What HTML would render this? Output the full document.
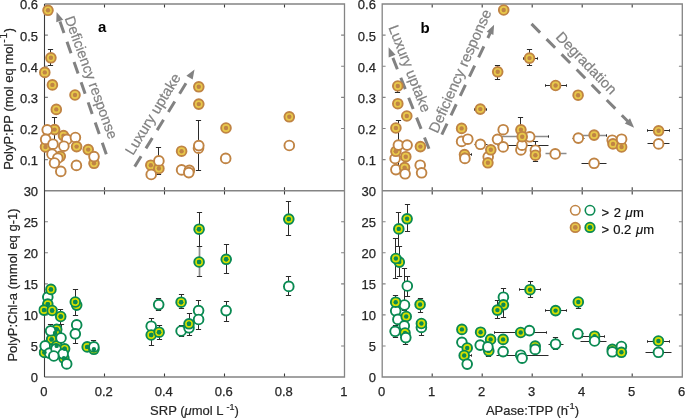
<!DOCTYPE html>
<html><head><meta charset="utf-8"><style>
html,body{margin:0;padding:0;background:#fff;width:685px;height:418px;overflow:hidden}
svg{display:block;will-change:transform}
text{font-family:"Liberation Sans",sans-serif}
</style></head><body>
<svg width="685" height="418" viewBox="0 0 685 418">
<rect width="685" height="418" fill="#fff"/>
<defs>
<clipPath id="ca"><rect x="38.5" y="-2.0" width="312.0" height="198.75"/></clipPath>
<clipPath id="cb"><rect x="376.2" y="-2.0" width="312.09999999999997" height="198.75"/></clipPath>
<clipPath id="cc"><rect x="38.5" y="184.75" width="312.0" height="198.25"/></clipPath>
<clipPath id="cd"><rect x="376.2" y="184.75" width="312.09999999999997" height="198.25"/></clipPath>
</defs>
<path d="M104.5 190.8v-3.6M104.5 4.0v3.6M164.5 190.8v-3.6M164.5 4.0v3.6M224.5 190.8v-3.6M224.5 4.0v3.6M284.5 190.8v-3.6M284.5 4.0v3.6" stroke="#3c3c3c" stroke-width="1.1" fill="none"/>
<path d="M44.5 159.6h3.4M344.5 159.6h-3.4M44.5 128.5h3.4M344.5 128.5h-3.4M44.5 97.4h3.4M344.5 97.4h-3.4M44.5 66.2h3.4M344.5 66.2h-3.4M44.5 35.1h3.4M344.5 35.1h-3.4" stroke="#848484" stroke-width="1.1" fill="none"/>
<path d="M104.5 377.0v-3.6M104.5 190.8v3.6M164.5 377.0v-3.6M164.5 190.8v3.6M224.5 377.0v-3.6M224.5 190.8v3.6M284.5 377.0v-3.6M284.5 190.8v3.6" stroke="#3c3c3c" stroke-width="1.1" fill="none"/>
<path d="M44.5 346.0h3.4M344.5 346.0h-3.4M44.5 314.9h3.4M344.5 314.9h-3.4M44.5 283.9h3.4M344.5 283.9h-3.4M44.5 252.8h3.4M344.5 252.8h-3.4M44.5 221.8h3.4M344.5 221.8h-3.4" stroke="#848484" stroke-width="1.1" fill="none"/>
<path d="M432.2 190.8v-3.6M432.2 4.0v3.6M482.2 190.8v-3.6M482.2 4.0v3.6M532.2 190.8v-3.6M532.2 4.0v3.6M582.2 190.8v-3.6M582.2 4.0v3.6M632.2 190.8v-3.6M632.2 4.0v3.6" stroke="#3c3c3c" stroke-width="1.1" fill="none"/>
<path d="M382.2 159.6h3.4M682.3 159.6h-3.4M382.2 128.5h3.4M682.3 128.5h-3.4M382.2 97.4h3.4M682.3 97.4h-3.4M382.2 66.2h3.4M682.3 66.2h-3.4M382.2 35.1h3.4M682.3 35.1h-3.4" stroke="#848484" stroke-width="1.1" fill="none"/>
<path d="M432.2 377.0v-3.6M432.2 190.8v3.6M482.2 377.0v-3.6M482.2 190.8v3.6M532.2 377.0v-3.6M532.2 190.8v3.6M582.2 377.0v-3.6M582.2 190.8v3.6M632.2 377.0v-3.6M632.2 190.8v3.6" stroke="#3c3c3c" stroke-width="1.1" fill="none"/>
<path d="M382.2 346.0h3.4M682.3 346.0h-3.4M382.2 314.9h3.4M682.3 314.9h-3.4M382.2 283.9h3.4M682.3 283.9h-3.4M382.2 252.8h3.4M682.3 252.8h-3.4M382.2 221.8h3.4M682.3 221.8h-3.4" stroke="#848484" stroke-width="1.1" fill="none"/>
<path d="M44.5 4.0H344.5V377.0H44.5M44.5 190.75H344.5" stroke="#848484" stroke-width="1.3" fill="none"/>
<path d="M382.2 4.0H682.3V377.0H382.2ZM382.2 190.75H682.3" stroke="#848484" stroke-width="1.3" fill="none"/>
<path d="M44.5 4.0V377.0" stroke="#3c3c3c" stroke-width="1.1" fill="none"/>
<text x="38.1" y="165.0" text-anchor="end" font-family="Liberation Sans, sans-serif" font-size="13" fill="#262626" stroke="#262626" stroke-width="0.25">0.1</text>
<text x="38.1" y="133.9" text-anchor="end" font-family="Liberation Sans, sans-serif" font-size="13" fill="#262626" stroke="#262626" stroke-width="0.25">0.2</text>
<text x="38.1" y="102.8" text-anchor="end" font-family="Liberation Sans, sans-serif" font-size="13" fill="#262626" stroke="#262626" stroke-width="0.25">0.3</text>
<text x="38.1" y="71.7" text-anchor="end" font-family="Liberation Sans, sans-serif" font-size="13" fill="#262626" stroke="#262626" stroke-width="0.25">0.4</text>
<text x="38.1" y="40.5" text-anchor="end" font-family="Liberation Sans, sans-serif" font-size="13" fill="#262626" stroke="#262626" stroke-width="0.25">0.5</text>
<text x="38.1" y="9.4" text-anchor="end" font-family="Liberation Sans, sans-serif" font-size="13" fill="#262626" stroke="#262626" stroke-width="0.25">0.6</text>
<text x="38.1" y="382.4" text-anchor="end" font-family="Liberation Sans, sans-serif" font-size="13" fill="#262626" stroke="#262626" stroke-width="0.25">0</text>
<text x="38.1" y="351.4" text-anchor="end" font-family="Liberation Sans, sans-serif" font-size="13" fill="#262626" stroke="#262626" stroke-width="0.25">5</text>
<text x="38.1" y="320.3" text-anchor="end" font-family="Liberation Sans, sans-serif" font-size="13" fill="#262626" stroke="#262626" stroke-width="0.25">10</text>
<text x="38.1" y="289.3" text-anchor="end" font-family="Liberation Sans, sans-serif" font-size="13" fill="#262626" stroke="#262626" stroke-width="0.25">15</text>
<text x="38.1" y="258.2" text-anchor="end" font-family="Liberation Sans, sans-serif" font-size="13" fill="#262626" stroke="#262626" stroke-width="0.25">20</text>
<text x="38.1" y="227.2" text-anchor="end" font-family="Liberation Sans, sans-serif" font-size="13" fill="#262626" stroke="#262626" stroke-width="0.25">25</text>
<text x="38.1" y="196.2" text-anchor="end" font-family="Liberation Sans, sans-serif" font-size="13" fill="#262626" stroke="#262626" stroke-width="0.25">30</text>
<text x="375.9" y="165.0" text-anchor="end" font-family="Liberation Sans, sans-serif" font-size="13" fill="#262626" stroke="#262626" stroke-width="0.25">0.1</text>
<text x="375.9" y="133.9" text-anchor="end" font-family="Liberation Sans, sans-serif" font-size="13" fill="#262626" stroke="#262626" stroke-width="0.25">0.2</text>
<text x="375.9" y="102.8" text-anchor="end" font-family="Liberation Sans, sans-serif" font-size="13" fill="#262626" stroke="#262626" stroke-width="0.25">0.3</text>
<text x="375.9" y="71.7" text-anchor="end" font-family="Liberation Sans, sans-serif" font-size="13" fill="#262626" stroke="#262626" stroke-width="0.25">0.4</text>
<text x="375.9" y="40.5" text-anchor="end" font-family="Liberation Sans, sans-serif" font-size="13" fill="#262626" stroke="#262626" stroke-width="0.25">0.5</text>
<text x="375.9" y="9.4" text-anchor="end" font-family="Liberation Sans, sans-serif" font-size="13" fill="#262626" stroke="#262626" stroke-width="0.25">0.6</text>
<text x="375.9" y="382.4" text-anchor="end" font-family="Liberation Sans, sans-serif" font-size="13" fill="#262626" stroke="#262626" stroke-width="0.25">0</text>
<text x="375.9" y="351.4" text-anchor="end" font-family="Liberation Sans, sans-serif" font-size="13" fill="#262626" stroke="#262626" stroke-width="0.25">5</text>
<text x="375.9" y="320.3" text-anchor="end" font-family="Liberation Sans, sans-serif" font-size="13" fill="#262626" stroke="#262626" stroke-width="0.25">10</text>
<text x="375.9" y="289.3" text-anchor="end" font-family="Liberation Sans, sans-serif" font-size="13" fill="#262626" stroke="#262626" stroke-width="0.25">15</text>
<text x="375.9" y="258.2" text-anchor="end" font-family="Liberation Sans, sans-serif" font-size="13" fill="#262626" stroke="#262626" stroke-width="0.25">20</text>
<text x="375.9" y="227.2" text-anchor="end" font-family="Liberation Sans, sans-serif" font-size="13" fill="#262626" stroke="#262626" stroke-width="0.25">25</text>
<text x="375.9" y="196.2" text-anchor="end" font-family="Liberation Sans, sans-serif" font-size="13" fill="#262626" stroke="#262626" stroke-width="0.25">30</text>
<text x="43.8" y="395.7" text-anchor="middle" font-family="Liberation Sans, sans-serif" font-size="13" fill="#262626" stroke="#262626" stroke-width="0.25">0</text>
<text x="103.8" y="395.7" text-anchor="middle" font-family="Liberation Sans, sans-serif" font-size="13" fill="#262626" stroke="#262626" stroke-width="0.25">0.2</text>
<text x="163.8" y="395.7" text-anchor="middle" font-family="Liberation Sans, sans-serif" font-size="13" fill="#262626" stroke="#262626" stroke-width="0.25">0.4</text>
<text x="223.8" y="395.7" text-anchor="middle" font-family="Liberation Sans, sans-serif" font-size="13" fill="#262626" stroke="#262626" stroke-width="0.25">0.6</text>
<text x="283.8" y="395.7" text-anchor="middle" font-family="Liberation Sans, sans-serif" font-size="13" fill="#262626" stroke="#262626" stroke-width="0.25">0.8</text>
<text x="343.8" y="395.7" text-anchor="middle" font-family="Liberation Sans, sans-serif" font-size="13" fill="#262626" stroke="#262626" stroke-width="0.25">1</text>
<text x="381.5" y="395.7" text-anchor="middle" font-family="Liberation Sans, sans-serif" font-size="13" fill="#262626" stroke="#262626" stroke-width="0.25">0</text>
<text x="431.5" y="395.7" text-anchor="middle" font-family="Liberation Sans, sans-serif" font-size="13" fill="#262626" stroke="#262626" stroke-width="0.25">1</text>
<text x="481.5" y="395.7" text-anchor="middle" font-family="Liberation Sans, sans-serif" font-size="13" fill="#262626" stroke="#262626" stroke-width="0.25">2</text>
<text x="531.5" y="395.7" text-anchor="middle" font-family="Liberation Sans, sans-serif" font-size="13" fill="#262626" stroke="#262626" stroke-width="0.25">3</text>
<text x="581.5" y="395.7" text-anchor="middle" font-family="Liberation Sans, sans-serif" font-size="13" fill="#262626" stroke="#262626" stroke-width="0.25">4</text>
<text x="631.5" y="395.7" text-anchor="middle" font-family="Liberation Sans, sans-serif" font-size="13" fill="#262626" stroke="#262626" stroke-width="0.25">5</text>
<text x="681.5" y="395.7" text-anchor="middle" font-family="Liberation Sans, sans-serif" font-size="13" fill="#262626" stroke="#262626" stroke-width="0.25">6</text>
<text transform="translate(13.4,98.9) rotate(-90)" text-anchor="middle" font-family="Liberation Sans, sans-serif" font-size="13" fill="#262626" stroke="#262626" stroke-width="0.2">PolyP:PP (mol eq mol<tspan dy="-6" dx="1" font-size="10">-</tspan><tspan dx="0.8" font-size="10">1</tspan><tspan dy="6" dx="0.7">)</tspan></text>
<text transform="translate(16.6,285.0) rotate(-90)" text-anchor="middle" font-family="Liberation Sans, sans-serif" font-size="13" fill="#262626" stroke="#262626" stroke-width="0.2">PolyP:Chl-a (mmol eq g-1)</text>
<text x="194.5" y="414.6" text-anchor="middle" font-family="Liberation Sans, sans-serif" font-size="13" fill="#262626" stroke="#262626" stroke-width="0.2">SRP (<tspan font-style="italic">μ</tspan>mol L <tspan dy="-5" font-size="9">-1</tspan><tspan dy="5">)</tspan></text>
<text x="532.5" y="414.6" text-anchor="middle" font-family="Liberation Sans, sans-serif" font-size="13" fill="#262626" stroke="#262626" stroke-width="0.2">APase:TPP (h<tspan dy="-5.8" font-size="9.5" dx="-1.8">-1</tspan><tspan dy="5.8">)</tspan></text>
<text x="98.0" y="32.4" font-family="Liberation Sans, sans-serif" font-size="15" font-weight="bold" fill="#000">a</text>
<text x="420.4" y="32.6" font-family="Liberation Sans, sans-serif" font-size="15" font-weight="bold" fill="#000">b</text>
<path d="M106.30 154.30L59.57 20.50" stroke="#828282" stroke-width="3" stroke-dasharray="12.2 9.2" stroke-dashoffset="0" fill="none"/>
<path d="M56.60 12.00L63.23 19.75L56.24 22.19Z" fill="#828282"/>
<path d="M134.70 166.60L189.78 77.16" stroke="#828282" stroke-width="3" stroke-dasharray="12.2 9.2" stroke-dashoffset="0" fill="none"/>
<path d="M194.50 69.50L192.67 79.53L186.37 75.65Z" fill="#828282"/>
<path d="M429.00 148.80L391.93 55.56" stroke="#828282" stroke-width="3" stroke-dasharray="12.2 9.2" stroke-dashoffset="0" fill="none"/>
<path d="M388.60 47.20L395.55 54.66L388.67 57.39Z" fill="#828282"/>
<path d="M441.80 134.60L490.23 32.93" stroke="#828282" stroke-width="3" stroke-dasharray="12.2 9.2" stroke-dashoffset="0" fill="none"/>
<path d="M494.10 24.80L493.36 34.97L486.67 31.79Z" fill="#828282"/>
<path d="M531.50 23.90L627.77 121.30" stroke="#828282" stroke-width="3" stroke-dasharray="12.2 9.2" stroke-dashoffset="0" fill="none"/>
<path d="M634.10 127.70L624.79 123.54L630.05 118.34Z" fill="#828282"/>
<text transform="translate(91.50,77.40) rotate(70)" text-anchor="middle" dy="5.2" font-family="Liberation Sans, sans-serif" font-size="14.4" fill="#828282" stroke="#828282" stroke-width="0.2">Deficiency response</text>
<text transform="translate(152.70,113.90) rotate(-58.5)" text-anchor="middle" dy="5.2" font-family="Liberation Sans, sans-serif" font-size="14.7" fill="#828282" stroke="#828282" stroke-width="0.2">Luxury uptake</text>
<text transform="translate(409.90,68.45) rotate(68.6)" text-anchor="middle" dy="5.2" font-family="Liberation Sans, sans-serif" font-size="14.7" fill="#828282" stroke="#828282" stroke-width="0.2">Luxury uptake</text>
<text transform="translate(459.90,71.00) rotate(-66)" text-anchor="middle" dy="5.2" font-family="Liberation Sans, sans-serif" font-size="14.8" fill="#828282" stroke="#828282" stroke-width="0.2">Deficiency response</text>
<text transform="translate(586.60,62.90) rotate(46)" text-anchor="middle" dy="5.2" font-family="Liberation Sans, sans-serif" font-size="14.7" fill="#828282" stroke="#828282" stroke-width="0.2">Degradation</text>
<g clip-path="url(#ca)">
<path d="M50.5 49.5V65.5M47.9 49.5H53.1M47.9 65.5H53.1" stroke="#2a2a2a" stroke-width="1.0" fill="none"/>
<path d="M54.5 117.5V141.5M51.9 117.5H57.1M51.9 141.5H57.1" stroke="#2a2a2a" stroke-width="1.0" fill="none"/>
<path d="M158.5 147.5V174.5M155.9 147.5H161.1M155.9 174.5H161.1" stroke="#2a2a2a" stroke-width="1.0" fill="none"/>
<path d="M198.5 82.5V91.5M195.9 82.5H201.1M195.9 91.5H201.1" stroke="#2a2a2a" stroke-width="1.0" fill="none"/>
<path d="M198.5 120.5V170.5M195.9 120.5H201.1M195.9 170.5H201.1" stroke="#2a2a2a" stroke-width="1.0" fill="none"/>
<circle cx="48.0" cy="10.3" r="4.85" fill="#e8c84a" stroke="#c08444" stroke-width="1.9"/><circle cx="48.0" cy="10.3" r="2.2" fill="#c08444"/>
<circle cx="50.9" cy="57.8" r="4.85" fill="#e8c84a" stroke="#c08444" stroke-width="1.9"/><circle cx="50.9" cy="57.8" r="2.2" fill="#c08444"/>
<circle cx="44.8" cy="72.4" r="4.85" fill="#e8c84a" stroke="#c08444" stroke-width="1.9"/><circle cx="44.8" cy="72.4" r="2.2" fill="#c08444"/>
<circle cx="52.4" cy="84.9" r="4.85" fill="#e8c84a" stroke="#c08444" stroke-width="1.9"/><circle cx="52.4" cy="84.9" r="2.2" fill="#c08444"/>
<circle cx="75.0" cy="95.0" r="4.85" fill="#e8c84a" stroke="#c08444" stroke-width="1.9"/><circle cx="75.0" cy="95.0" r="2.2" fill="#c08444"/>
<circle cx="56.3" cy="109.4" r="4.85" fill="#e8c84a" stroke="#c08444" stroke-width="1.9"/><circle cx="56.3" cy="109.4" r="2.2" fill="#c08444"/>
<circle cx="54.6" cy="129.6" r="4.85" fill="#e8c84a" stroke="#c08444" stroke-width="1.9"/><circle cx="54.6" cy="129.6" r="2.2" fill="#c08444"/>
<circle cx="63.5" cy="135.6" r="4.85" fill="#e8c84a" stroke="#c08444" stroke-width="1.9"/><circle cx="63.5" cy="135.6" r="2.2" fill="#c08444"/>
<circle cx="45.5" cy="147.0" r="4.85" fill="#e8c84a" stroke="#c08444" stroke-width="1.9"/><circle cx="45.5" cy="147.0" r="2.2" fill="#c08444"/>
<circle cx="60.3" cy="156.3" r="4.85" fill="#e8c84a" stroke="#c08444" stroke-width="1.9"/><circle cx="60.3" cy="156.3" r="2.2" fill="#c08444"/>
<circle cx="47.2" cy="129.8" r="4.85" fill="#fff" stroke="#c08444" stroke-width="1.9"/>
<circle cx="45.7" cy="139.4" r="4.85" fill="#fff" stroke="#c08444" stroke-width="1.9"/>
<circle cx="66.8" cy="139.4" r="4.85" fill="#fff" stroke="#c08444" stroke-width="1.9"/>
<circle cx="75.4" cy="137.5" r="4.85" fill="#fff" stroke="#c08444" stroke-width="1.9"/>
<circle cx="53.0" cy="144.2" r="4.85" fill="#fff" stroke="#c08444" stroke-width="1.9"/>
<circle cx="63.9" cy="146.2" r="4.85" fill="#fff" stroke="#c08444" stroke-width="1.9"/>
<circle cx="76.6" cy="146.6" r="4.85" fill="#e8c84a" stroke="#c08444" stroke-width="1.9"/><circle cx="76.6" cy="146.6" r="2.2" fill="#c08444"/>
<circle cx="88.2" cy="149.6" r="4.85" fill="#e8c84a" stroke="#c08444" stroke-width="1.9"/><circle cx="88.2" cy="149.6" r="2.2" fill="#c08444"/>
<circle cx="52.0" cy="154.2" r="4.85" fill="#fff" stroke="#c08444" stroke-width="1.9"/>
<circle cx="57.8" cy="158.2" r="4.85" fill="#fff" stroke="#c08444" stroke-width="1.9"/>
<circle cx="54.5" cy="163.0" r="4.85" fill="#fff" stroke="#c08444" stroke-width="1.9"/>
<circle cx="94.0" cy="163.3" r="4.85" fill="#e8c84a" stroke="#c08444" stroke-width="1.9"/><circle cx="94.0" cy="163.3" r="2.2" fill="#c08444"/>
<circle cx="94.0" cy="156.6" r="4.85" fill="#fff" stroke="#c08444" stroke-width="1.9"/>
<circle cx="76.4" cy="165.4" r="4.85" fill="#fff" stroke="#c08444" stroke-width="1.9"/>
<circle cx="60.8" cy="171.4" r="4.85" fill="#fff" stroke="#c08444" stroke-width="1.9"/>
<circle cx="150.8" cy="165.2" r="4.85" fill="#e8c84a" stroke="#c08444" stroke-width="1.9"/><circle cx="150.8" cy="165.2" r="2.2" fill="#c08444"/>
<circle cx="158.9" cy="168.5" r="4.85" fill="#e8c84a" stroke="#c08444" stroke-width="1.9"/><circle cx="158.9" cy="168.5" r="2.2" fill="#c08444"/>
<circle cx="158.9" cy="160.9" r="4.85" fill="#fff" stroke="#c08444" stroke-width="1.9"/>
<circle cx="151.2" cy="174.5" r="4.85" fill="#fff" stroke="#c08444" stroke-width="1.9"/>
<circle cx="181.6" cy="151.2" r="4.85" fill="#e8c84a" stroke="#c08444" stroke-width="1.9"/><circle cx="181.6" cy="151.2" r="2.2" fill="#c08444"/>
<circle cx="181.6" cy="169.9" r="4.85" fill="#fff" stroke="#c08444" stroke-width="1.9"/>
<circle cx="189.4" cy="170.3" r="4.85" fill="#fff" stroke="#c08444" stroke-width="1.9"/>
<circle cx="188.8" cy="172.6" r="4.85" fill="#fff" stroke="#c08444" stroke-width="1.9"/>
<circle cx="198.8" cy="86.8" r="4.85" fill="#e8c84a" stroke="#c08444" stroke-width="1.9"/><circle cx="198.8" cy="86.8" r="2.2" fill="#c08444"/>
<circle cx="198.8" cy="104.1" r="4.85" fill="#e8c84a" stroke="#c08444" stroke-width="1.9"/><circle cx="198.8" cy="104.1" r="2.2" fill="#c08444"/>
<circle cx="198.5" cy="148.2" r="4.85" fill="#fff" stroke="#c08444" stroke-width="1.9"/>
<circle cx="198.8" cy="145.6" r="4.85" fill="#fff" stroke="#c08444" stroke-width="1.9"/>
<circle cx="226.0" cy="128.0" r="4.85" fill="#e8c84a" stroke="#c08444" stroke-width="1.9"/><circle cx="226.0" cy="128.0" r="2.2" fill="#c08444"/>
<circle cx="225.7" cy="158.4" r="4.85" fill="#fff" stroke="#c08444" stroke-width="1.9"/>
<circle cx="289.3" cy="116.8" r="4.85" fill="#e8c84a" stroke="#c08444" stroke-width="1.9"/><circle cx="289.3" cy="116.8" r="2.2" fill="#c08444"/>
<circle cx="289.3" cy="145.5" r="4.85" fill="#fff" stroke="#c08444" stroke-width="1.9"/>
</g>
<g clip-path="url(#cb)">
<path d="M497.5 65.5V79.5M494.9 65.5H500.1M494.9 79.5H500.1" stroke="#2a2a2a" stroke-width="1.0" fill="none"/>
<path d="M529.5 49.5V65.5M526.9 49.5H532.1M526.9 65.5H532.1" stroke="#2a2a2a" stroke-width="1.0" fill="none"/>
<path d="M523.5 58.5H537.5M523.5 57.3V59.7M537.5 57.3V59.7" stroke="#2a2a2a" stroke-width="1.0" fill="none"/>
<path d="M545.5 85.5H566.5M545.5 84.3V86.7M566.5 84.3V86.7" stroke="#2a2a2a" stroke-width="1.0" fill="none"/>
<path d="M474.5 109.5H486.5M474.5 108.3V110.7M486.5 108.3V110.7" stroke="#2a2a2a" stroke-width="1.0" fill="none"/>
<path d="M397.5 81.5V92.5M394.9 81.5H400.1M394.9 92.5H400.1" stroke="#2a2a2a" stroke-width="1.0" fill="none"/>
<path d="M398.5 120.5V169.5M395.9 120.5H401.1M395.9 169.5H401.1" stroke="#2a2a2a" stroke-width="1.0" fill="none"/>
<path d="M474.5 144.5H487.5" stroke="#2a2a2a" stroke-width="1.0" fill="none"/>
<path d="M459.5 154.5H471.5M459.5 153.3V155.7M471.5 153.3V155.7" stroke="#2a2a2a" stroke-width="1.0" fill="none"/>
<path d="M498.5 136.5H548.5" stroke="#8c8c8c" stroke-width="1.5" fill="none"/>
<path d="M498.5 135.3V137.7M548.5 135.3V137.7" stroke="#2a2a2a" stroke-width="1.0" fill="none"/>
<path d="M497.5 145.5H548.5" stroke="#2a2a2a" stroke-width="1.0" fill="none"/>
<path d="M520.5 117.5V140.5M517.9 117.5H523.1M517.9 140.5H523.1" stroke="#2a2a2a" stroke-width="1.0" fill="none"/>
<path d="M535.5 141.5V161.5M532.9 141.5H538.1M532.9 161.5H538.1" stroke="#2a2a2a" stroke-width="1.0" fill="none"/>
<path d="M545.5 153.5H566.5" stroke="#8c8c8c" stroke-width="1.5" fill="none"/>
<path d="M572.5 138.5H584.5" stroke="#2a2a2a" stroke-width="1.0" fill="none"/>
<path d="M578.5 135.5H606.5" stroke="#8c8c8c" stroke-width="1.5" fill="none"/>
<path d="M578.5 134.3V136.7M606.5 134.3V136.7" stroke="#2a2a2a" stroke-width="1.0" fill="none"/>
<path d="M581.5 163.5H606.5" stroke="#2a2a2a" stroke-width="1.0" fill="none"/>
<path d="M647.5 130.5H669.5M647.5 129.3V131.7M669.5 129.3V131.7" stroke="#2a2a2a" stroke-width="1.0" fill="none"/>
<path d="M647.5 143.5H669.5" stroke="#2a2a2a" stroke-width="1.0" fill="none"/>
<circle cx="503.7" cy="10.0" r="4.85" fill="#e8c84a" stroke="#c08444" stroke-width="1.9"/><circle cx="503.7" cy="10.0" r="2.2" fill="#c08444"/>
<circle cx="497.7" cy="71.8" r="4.85" fill="#e8c84a" stroke="#c08444" stroke-width="1.9"/><circle cx="497.7" cy="71.8" r="2.2" fill="#c08444"/>
<circle cx="529.5" cy="58.1" r="4.85" fill="#e8c84a" stroke="#c08444" stroke-width="1.9"/><circle cx="529.5" cy="58.1" r="2.2" fill="#c08444"/>
<circle cx="555.6" cy="85.5" r="4.85" fill="#e8c84a" stroke="#c08444" stroke-width="1.9"/><circle cx="555.6" cy="85.5" r="2.2" fill="#c08444"/>
<circle cx="578.1" cy="95.2" r="4.85" fill="#e8c84a" stroke="#c08444" stroke-width="1.9"/><circle cx="578.1" cy="95.2" r="2.2" fill="#c08444"/>
<circle cx="480.3" cy="109.1" r="4.85" fill="#e8c84a" stroke="#c08444" stroke-width="1.9"/><circle cx="480.3" cy="109.1" r="2.2" fill="#c08444"/>
<circle cx="397.8" cy="86.0" r="4.85" fill="#e8c84a" stroke="#c08444" stroke-width="1.9"/><circle cx="397.8" cy="86.0" r="2.2" fill="#c08444"/>
<circle cx="397.8" cy="103.7" r="4.85" fill="#e8c84a" stroke="#c08444" stroke-width="1.9"/><circle cx="397.8" cy="103.7" r="2.2" fill="#c08444"/>
<circle cx="406.8" cy="116.0" r="4.85" fill="#e8c84a" stroke="#c08444" stroke-width="1.9"/><circle cx="406.8" cy="116.0" r="2.2" fill="#c08444"/>
<circle cx="395.9" cy="128.0" r="4.85" fill="#e8c84a" stroke="#c08444" stroke-width="1.9"/><circle cx="395.9" cy="128.0" r="2.2" fill="#c08444"/>
<circle cx="395.1" cy="158.5" r="4.85" fill="#fff" stroke="#c08444" stroke-width="1.9"/>
<circle cx="395.9" cy="151.3" r="4.85" fill="#e8c84a" stroke="#c08444" stroke-width="1.9"/><circle cx="395.9" cy="151.3" r="2.2" fill="#c08444"/>
<circle cx="398.4" cy="145.1" r="4.85" fill="#fff" stroke="#c08444" stroke-width="1.9"/>
<circle cx="407.1" cy="145.1" r="4.85" fill="#fff" stroke="#c08444" stroke-width="1.9"/>
<circle cx="405.8" cy="156.7" r="4.85" fill="#e8c84a" stroke="#c08444" stroke-width="1.9"/><circle cx="405.8" cy="156.7" r="2.2" fill="#c08444"/>
<circle cx="420.4" cy="146.6" r="4.85" fill="#e8c84a" stroke="#c08444" stroke-width="1.9"/><circle cx="420.4" cy="146.6" r="2.2" fill="#c08444"/>
<circle cx="395.9" cy="169.6" r="4.85" fill="#fff" stroke="#c08444" stroke-width="1.9"/>
<circle cx="404.6" cy="167.6" r="4.85" fill="#e8c84a" stroke="#c08444" stroke-width="1.9"/><circle cx="404.6" cy="167.6" r="2.2" fill="#c08444"/>
<circle cx="405.1" cy="173.8" r="4.85" fill="#fff" stroke="#c08444" stroke-width="1.9"/>
<circle cx="420.2" cy="165.2" r="4.85" fill="#fff" stroke="#c08444" stroke-width="1.9"/>
<circle cx="421.6" cy="172.8" r="4.85" fill="#fff" stroke="#c08444" stroke-width="1.9"/>
<circle cx="461.6" cy="128.4" r="4.85" fill="#e8c84a" stroke="#c08444" stroke-width="1.9"/><circle cx="461.6" cy="128.4" r="2.2" fill="#c08444"/>
<circle cx="461.6" cy="141.4" r="4.85" fill="#fff" stroke="#c08444" stroke-width="1.9"/>
<circle cx="467.8" cy="139.2" r="4.85" fill="#fff" stroke="#c08444" stroke-width="1.9"/>
<circle cx="480.4" cy="144.3" r="4.85" fill="#fff" stroke="#c08444" stroke-width="1.9"/>
<circle cx="464.5" cy="154.6" r="4.85" fill="#e8c84a" stroke="#c08444" stroke-width="1.9"/><circle cx="464.5" cy="154.6" r="2.2" fill="#c08444"/>
<circle cx="464.9" cy="158.4" r="4.85" fill="#fff" stroke="#c08444" stroke-width="1.9"/>
<circle cx="488.2" cy="156.8" r="4.85" fill="#fff" stroke="#c08444" stroke-width="1.9"/>
<circle cx="490.8" cy="149.8" r="4.85" fill="#e8c84a" stroke="#c08444" stroke-width="1.9"/><circle cx="490.8" cy="149.8" r="2.2" fill="#c08444"/>
<circle cx="487.9" cy="162.8" r="4.85" fill="#e8c84a" stroke="#c08444" stroke-width="1.9"/><circle cx="487.9" cy="162.8" r="2.2" fill="#c08444"/>
<circle cx="503.2" cy="129.7" r="4.85" fill="#fff" stroke="#c08444" stroke-width="1.9"/>
<circle cx="497.5" cy="139.3" r="4.85" fill="#fff" stroke="#c08444" stroke-width="1.9"/>
<circle cx="503.2" cy="146.9" r="4.85" fill="#fff" stroke="#c08444" stroke-width="1.9"/>
<circle cx="529.7" cy="136.8" r="4.85" fill="#fff" stroke="#c08444" stroke-width="1.9"/>
<circle cx="520.9" cy="149.9" r="4.85" fill="#fff" stroke="#c08444" stroke-width="1.9"/>
<circle cx="522.0" cy="145.2" r="4.85" fill="#fff" stroke="#c08444" stroke-width="1.9"/>
<circle cx="520.9" cy="129.8" r="4.85" fill="#e8c84a" stroke="#c08444" stroke-width="1.9"/><circle cx="520.9" cy="129.8" r="2.2" fill="#c08444"/>
<circle cx="522.2" cy="136.7" r="4.85" fill="#e8c84a" stroke="#c08444" stroke-width="1.9"/><circle cx="522.2" cy="136.7" r="2.2" fill="#c08444"/>
<circle cx="535.4" cy="150.2" r="4.85" fill="#fff" stroke="#c08444" stroke-width="1.9"/>
<circle cx="535.4" cy="155.2" r="4.85" fill="#e8c84a" stroke="#c08444" stroke-width="1.9"/><circle cx="535.4" cy="155.2" r="2.2" fill="#c08444"/>
<circle cx="555.2" cy="153.9" r="4.85" fill="#fff" stroke="#c08444" stroke-width="1.9"/>
<circle cx="578.3" cy="138.1" r="4.85" fill="#fff" stroke="#c08444" stroke-width="1.9"/>
<circle cx="594.1" cy="135.1" r="4.85" fill="#e8c84a" stroke="#c08444" stroke-width="1.9"/><circle cx="594.1" cy="135.1" r="2.2" fill="#c08444"/>
<circle cx="594.1" cy="163.3" r="4.85" fill="#fff" stroke="#c08444" stroke-width="1.9"/>
<circle cx="612.2" cy="140.2" r="4.85" fill="#fff" stroke="#c08444" stroke-width="1.9"/>
<circle cx="613.0" cy="143.9" r="4.85" fill="#e8c84a" stroke="#c08444" stroke-width="1.9"/><circle cx="613.0" cy="143.9" r="2.2" fill="#c08444"/>
<circle cx="621.6" cy="147.0" r="4.85" fill="#e8c84a" stroke="#c08444" stroke-width="1.9"/><circle cx="621.6" cy="147.0" r="2.2" fill="#c08444"/>
<circle cx="621.6" cy="139.2" r="4.85" fill="#fff" stroke="#c08444" stroke-width="1.9"/>
<circle cx="658.6" cy="130.8" r="4.85" fill="#e8c84a" stroke="#c08444" stroke-width="1.9"/><circle cx="658.6" cy="130.8" r="2.2" fill="#c08444"/>
<circle cx="658.6" cy="143.9" r="4.85" fill="#fff" stroke="#c08444" stroke-width="1.9"/>
<circle cx="395.9" cy="151.3" r="2.2" fill="#c08444"/>
</g>
<g clip-path="url(#cc)">
<path d="M60.5 309.5V324.5M57.9 309.5H63.1M57.9 324.5H63.1" stroke="#2a2a2a" stroke-width="1.0" fill="none"/>
<path d="M75.5 289.5V315.5M72.9 289.5H78.1M72.9 315.5H78.1" stroke="#2a2a2a" stroke-width="1.0" fill="none"/>
<path d="M75.5 322.5V343.5M72.9 322.5H78.1M72.9 343.5H78.1" stroke="#2a2a2a" stroke-width="1.0" fill="none"/>
<path d="M50.5 324.5V337.5M47.9 324.5H53.1M47.9 337.5H53.1" stroke="#2a2a2a" stroke-width="1.0" fill="none"/>
<path d="M61.5 324.5V345.5M58.9 324.5H64.1M58.9 345.5H64.1" stroke="#2a2a2a" stroke-width="1.0" fill="none"/>
<path d="M93.5 340.5V352.5M90.9 340.5H96.1M90.9 352.5H96.1" stroke="#2a2a2a" stroke-width="1.0" fill="none"/>
<path d="M158.5 298.5V310.5M155.9 298.5H161.1M155.9 310.5H161.1" stroke="#2a2a2a" stroke-width="1.0" fill="none"/>
<path d="M181.5 294.5V308.5M178.9 294.5H184.1M178.9 308.5H184.1" stroke="#2a2a2a" stroke-width="1.0" fill="none"/>
<path d="M151.5 318.5V333.5M148.9 318.5H154.1M148.9 333.5H154.1" stroke="#2a2a2a" stroke-width="1.0" fill="none"/>
<path d="M151.5 328.5V345.5M148.9 328.5H154.1M148.9 345.5H154.1" stroke="#2a2a2a" stroke-width="1.0" fill="none"/>
<path d="M159.5 325.5V339.5M156.9 325.5H162.1M156.9 339.5H162.1" stroke="#2a2a2a" stroke-width="1.0" fill="none"/>
<path d="M181.5 325.5V336.5M178.9 325.5H184.1M178.9 336.5H184.1" stroke="#2a2a2a" stroke-width="1.0" fill="none"/>
<path d="M189.5 320.5V335.5M186.9 320.5H192.1M186.9 335.5H192.1" stroke="#2a2a2a" stroke-width="1.0" fill="none"/>
<path d="M189.5 313.5V330.5M186.9 313.5H192.1M186.9 330.5H192.1" stroke="#2a2a2a" stroke-width="1.0" fill="none"/>
<path d="M198.5 300.5V316.5M195.9 300.5H201.1M195.9 316.5H201.1" stroke="#2a2a2a" stroke-width="1.0" fill="none"/>
<path d="M198.5 313.5V329.5M195.9 313.5H201.1M195.9 329.5H201.1" stroke="#2a2a2a" stroke-width="1.0" fill="none"/>
<path d="M226.5 301.5V321.5M223.9 301.5H229.1M223.9 321.5H229.1" stroke="#2a2a2a" stroke-width="1.0" fill="none"/>
<path d="M199.5 212.5V246.5M196.9 212.5H202.1M196.9 246.5H202.1" stroke="#2a2a2a" stroke-width="1.0" fill="none"/>
<path d="M199.5 246.5V276.5" stroke="#8c8c8c" stroke-width="1.7" fill="none"/>
<path d="M196.9 246.5H202.1M196.9 276.5H202.1" stroke="#2a2a2a" stroke-width="1.1" fill="none"/>
<path d="M226.5 244.5V273.5M223.9 244.5H229.1M223.9 273.5H229.1" stroke="#2a2a2a" stroke-width="1.0" fill="none"/>
<path d="M288.5 201.5V235.5M285.9 201.5H291.1M285.9 235.5H291.1" stroke="#2a2a2a" stroke-width="1.0" fill="none"/>
<path d="M288.5 276.5V295.5M285.9 276.5H291.1M285.9 295.5H291.1" stroke="#2a2a2a" stroke-width="1.0" fill="none"/>
<circle cx="47.8" cy="297.1" r="4.85" fill="#fff" stroke="#0a8a52" stroke-width="1.9"/>
<circle cx="50.9" cy="289.4" r="4.85" fill="#d4e000" stroke="#0a8a52" stroke-width="1.9"/><circle cx="50.9" cy="289.4" r="2.2" fill="#0a8a52"/>
<circle cx="47.8" cy="304.1" r="4.85" fill="#d4e000" stroke="#0a8a52" stroke-width="1.9"/><circle cx="47.8" cy="304.1" r="2.2" fill="#0a8a52"/>
<circle cx="44.0" cy="310.1" r="4.85" fill="#d4e000" stroke="#0a8a52" stroke-width="1.9"/><circle cx="44.0" cy="310.1" r="2.2" fill="#0a8a52"/>
<circle cx="52.1" cy="310.5" r="4.85" fill="#d4e000" stroke="#0a8a52" stroke-width="1.9"/><circle cx="52.1" cy="310.5" r="2.2" fill="#0a8a52"/>
<circle cx="60.7" cy="316.5" r="4.85" fill="#d4e000" stroke="#0a8a52" stroke-width="1.9"/><circle cx="60.7" cy="316.5" r="2.2" fill="#0a8a52"/>
<circle cx="76.7" cy="305.1" r="4.85" fill="#d4e000" stroke="#0a8a52" stroke-width="1.9"/><circle cx="76.7" cy="305.1" r="2.2" fill="#0a8a52"/>
<circle cx="75.3" cy="302.0" r="4.85" fill="#d4e000" stroke="#0a8a52" stroke-width="1.9"/><circle cx="75.3" cy="302.0" r="2.2" fill="#0a8a52"/>
<circle cx="56.7" cy="329.4" r="4.85" fill="#d4e000" stroke="#0a8a52" stroke-width="1.9"/><circle cx="56.7" cy="329.4" r="2.2" fill="#0a8a52"/>
<circle cx="55.0" cy="333.0" r="4.85" fill="#d4e000" stroke="#0a8a52" stroke-width="1.9"/><circle cx="55.0" cy="333.0" r="2.2" fill="#0a8a52"/>
<circle cx="51.6" cy="339.4" r="4.85" fill="#d4e000" stroke="#0a8a52" stroke-width="1.9"/><circle cx="51.6" cy="339.4" r="2.2" fill="#0a8a52"/>
<circle cx="44.5" cy="352.4" r="4.85" fill="#d4e000" stroke="#0a8a52" stroke-width="1.9"/><circle cx="44.5" cy="352.4" r="2.2" fill="#0a8a52"/>
<circle cx="56.7" cy="345.9" r="4.85" fill="#d4e000" stroke="#0a8a52" stroke-width="1.9"/><circle cx="56.7" cy="345.9" r="2.2" fill="#0a8a52"/>
<circle cx="64.6" cy="348.8" r="4.85" fill="#d4e000" stroke="#0a8a52" stroke-width="1.9"/><circle cx="64.6" cy="348.8" r="2.2" fill="#0a8a52"/>
<circle cx="63.9" cy="358.1" r="4.85" fill="#d4e000" stroke="#0a8a52" stroke-width="1.9"/><circle cx="63.9" cy="358.1" r="2.2" fill="#0a8a52"/>
<circle cx="87.2" cy="346.9" r="4.85" fill="#d4e000" stroke="#0a8a52" stroke-width="1.9"/><circle cx="87.2" cy="346.9" r="2.2" fill="#0a8a52"/>
<circle cx="93.9" cy="349.3" r="4.85" fill="#d4e000" stroke="#0a8a52" stroke-width="1.9"/><circle cx="93.9" cy="349.3" r="2.2" fill="#0a8a52"/>
<circle cx="76.7" cy="324.9" r="4.85" fill="#fff" stroke="#0a8a52" stroke-width="1.9"/>
<circle cx="75.3" cy="333.8" r="4.85" fill="#fff" stroke="#0a8a52" stroke-width="1.9"/>
<circle cx="50.6" cy="330.8" r="4.85" fill="#fff" stroke="#0a8a52" stroke-width="1.9"/>
<circle cx="61.0" cy="338.0" r="4.85" fill="#fff" stroke="#0a8a52" stroke-width="1.9"/>
<circle cx="45.2" cy="345.9" r="4.85" fill="#fff" stroke="#0a8a52" stroke-width="1.9"/>
<circle cx="49.5" cy="353.1" r="4.85" fill="#fff" stroke="#0a8a52" stroke-width="1.9"/>
<circle cx="56.0" cy="348.8" r="4.85" fill="#fff" stroke="#0a8a52" stroke-width="1.9"/>
<circle cx="63.1" cy="353.8" r="4.85" fill="#fff" stroke="#0a8a52" stroke-width="1.9"/>
<circle cx="53.8" cy="356.0" r="4.85" fill="#fff" stroke="#0a8a52" stroke-width="1.9"/>
<circle cx="66.7" cy="363.9" r="4.85" fill="#fff" stroke="#0a8a52" stroke-width="1.9"/>
<circle cx="93.9" cy="346.9" r="4.85" fill="#fff" stroke="#0a8a52" stroke-width="1.9"/>
<circle cx="158.7" cy="304.6" r="4.85" fill="#fff" stroke="#0a8a52" stroke-width="1.9"/>
<circle cx="181.1" cy="302.2" r="4.85" fill="#d4e000" stroke="#0a8a52" stroke-width="1.9"/><circle cx="181.1" cy="302.2" r="2.2" fill="#0a8a52"/>
<circle cx="151.2" cy="326.2" r="4.85" fill="#fff" stroke="#0a8a52" stroke-width="1.9"/>
<circle cx="151.2" cy="335.0" r="4.85" fill="#d4e000" stroke="#0a8a52" stroke-width="1.9"/><circle cx="151.2" cy="335.0" r="2.2" fill="#0a8a52"/>
<circle cx="159.1" cy="332.2" r="4.85" fill="#d4e000" stroke="#0a8a52" stroke-width="1.9"/><circle cx="159.1" cy="332.2" r="2.2" fill="#0a8a52"/>
<circle cx="181.1" cy="331.0" r="4.85" fill="#fff" stroke="#0a8a52" stroke-width="1.9"/>
<circle cx="189.0" cy="327.8" r="4.85" fill="#fff" stroke="#0a8a52" stroke-width="1.9"/>
<circle cx="189.0" cy="323.8" r="4.85" fill="#d4e000" stroke="#0a8a52" stroke-width="1.9"/><circle cx="189.0" cy="323.8" r="2.2" fill="#0a8a52"/>
<circle cx="198.6" cy="310.6" r="4.85" fill="#fff" stroke="#0a8a52" stroke-width="1.9"/>
<circle cx="198.6" cy="319.5" r="4.85" fill="#fff" stroke="#0a8a52" stroke-width="1.9"/>
<circle cx="226.1" cy="310.6" r="4.85" fill="#fff" stroke="#0a8a52" stroke-width="1.9"/>
<circle cx="199.1" cy="229.2" r="4.85" fill="#d4e000" stroke="#0a8a52" stroke-width="1.9"/><circle cx="199.1" cy="229.2" r="2.2" fill="#0a8a52"/>
<circle cx="199.1" cy="262.0" r="4.85" fill="#d4e000" stroke="#0a8a52" stroke-width="1.9"/><circle cx="199.1" cy="262.0" r="2.2" fill="#0a8a52"/>
<circle cx="226.2" cy="259.3" r="4.85" fill="#d4e000" stroke="#0a8a52" stroke-width="1.9"/><circle cx="226.2" cy="259.3" r="2.2" fill="#0a8a52"/>
<circle cx="288.8" cy="219.1" r="4.85" fill="#d4e000" stroke="#0a8a52" stroke-width="1.9"/><circle cx="288.8" cy="219.1" r="2.2" fill="#0a8a52"/>
<circle cx="288.8" cy="286.4" r="4.85" fill="#fff" stroke="#0a8a52" stroke-width="1.9"/>
<circle cx="50.9" cy="289.4" r="2.2" fill="#0a8a52"/>
<circle cx="47.8" cy="304.1" r="2.2" fill="#0a8a52"/>
<circle cx="44.0" cy="310.1" r="2.2" fill="#0a8a52"/>
<circle cx="52.1" cy="310.5" r="2.2" fill="#0a8a52"/>
<circle cx="60.7" cy="316.5" r="2.2" fill="#0a8a52"/>
<circle cx="75.3" cy="302.0" r="2.2" fill="#0a8a52"/>
<circle cx="56.7" cy="329.4" r="2.2" fill="#0a8a52"/>
<circle cx="55.0" cy="333.0" r="2.2" fill="#0a8a52"/>
<circle cx="51.6" cy="339.4" r="2.2" fill="#0a8a52"/>
<circle cx="44.5" cy="352.4" r="2.2" fill="#0a8a52"/>
<circle cx="56.7" cy="345.9" r="2.2" fill="#0a8a52"/>
<circle cx="64.6" cy="348.8" r="2.2" fill="#0a8a52"/>
<circle cx="63.9" cy="358.1" r="2.2" fill="#0a8a52"/>
<circle cx="87.2" cy="346.9" r="2.2" fill="#0a8a52"/>
<circle cx="93.9" cy="349.3" r="2.2" fill="#0a8a52"/>
<circle cx="181.1" cy="302.2" r="2.2" fill="#0a8a52"/>
<circle cx="151.2" cy="335.0" r="2.2" fill="#0a8a52"/>
<circle cx="159.1" cy="332.2" r="2.2" fill="#0a8a52"/>
<circle cx="189.0" cy="323.8" r="2.2" fill="#0a8a52"/>
<circle cx="199.1" cy="229.2" r="2.2" fill="#0a8a52"/>
<circle cx="199.1" cy="262.0" r="2.2" fill="#0a8a52"/>
<circle cx="226.2" cy="259.3" r="2.2" fill="#0a8a52"/>
<circle cx="288.8" cy="219.1" r="2.2" fill="#0a8a52"/>
</g>
<g clip-path="url(#cd)">
<path d="M407.5 204.5V231.5M404.9 204.5H410.1M404.9 231.5H410.1" stroke="#2a2a2a" stroke-width="1.0" fill="none"/>
<path d="M398.5 212.5V246.5M395.9 212.5H401.1M395.9 246.5H401.1" stroke="#2a2a2a" stroke-width="1.0" fill="none"/>
<path d="M399.5 246.5V276.5M396.9 246.5H402.1M396.9 276.5H402.1" stroke="#2a2a2a" stroke-width="1.0" fill="none"/>
<path d="M395.5 238.5V278.5M392.9 238.5H398.1M392.9 278.5H398.1" stroke="#2a2a2a" stroke-width="1.0" fill="none"/>
<path d="M407.5 276.5V296.5M404.9 276.5H410.1M404.9 296.5H410.1" stroke="#2a2a2a" stroke-width="1.0" fill="none"/>
<path d="M404.5 268.5V310.5M401.9 268.5H407.1M401.9 310.5H407.1" stroke="#2a2a2a" stroke-width="1.0" fill="none"/>
<path d="M395.5 295.5V308.5M392.9 295.5H398.1M392.9 308.5H398.1" stroke="#2a2a2a" stroke-width="1.0" fill="none"/>
<path d="M395.5 325.5V337.5M392.9 325.5H398.1M392.9 337.5H398.1" stroke="#2a2a2a" stroke-width="1.0" fill="none"/>
<path d="M405.5 332.5V344.5M402.9 332.5H408.1M402.9 344.5H408.1" stroke="#2a2a2a" stroke-width="1.0" fill="none"/>
<path d="M420.5 298.5V312.5M417.9 298.5H423.1M417.9 312.5H423.1" stroke="#2a2a2a" stroke-width="1.0" fill="none"/>
<path d="M421.5 320.5V335.5M418.9 320.5H424.1M418.9 335.5H424.1" stroke="#2a2a2a" stroke-width="1.0" fill="none"/>
<path d="M530.5 281.5V297.5M527.9 281.5H533.1M527.9 297.5H533.1" stroke="#2a2a2a" stroke-width="1.0" fill="none"/>
<path d="M519.5 289.5H540.5M519.5 288.3V290.7M540.5 288.3V290.7" stroke="#2a2a2a" stroke-width="1.0" fill="none"/>
<path d="M503.5 288.5V317.5M500.9 288.5H506.1M500.9 317.5H506.1" stroke="#2a2a2a" stroke-width="1.0" fill="none"/>
<path d="M497.5 300.5V318.5M494.9 300.5H500.1M494.9 318.5H500.1" stroke="#2a2a2a" stroke-width="1.0" fill="none"/>
<path d="M545.5 310.5H566.5M545.5 309.3V311.7M566.5 309.3V311.7" stroke="#2a2a2a" stroke-width="1.0" fill="none"/>
<path d="M494.5 332.5H546.5M494.5 331.3V333.7M546.5 331.3V333.7" stroke="#2a2a2a" stroke-width="1.0" fill="none"/>
<path d="M488.5 345.5V356.5M485.9 345.5H491.1M485.9 356.5H491.1" stroke="#2a2a2a" stroke-width="1.0" fill="none"/>
<path d="M496.5 355.5H548.5" stroke="#2a2a2a" stroke-width="1.0" fill="none"/>
<path d="M459.5 355.5H471.5M459.5 354.3V356.7M471.5 354.3V356.7" stroke="#2a2a2a" stroke-width="1.0" fill="none"/>
<path d="M555.5 337.5V349.5M552.9 337.5H558.1M552.9 349.5H558.1" stroke="#2a2a2a" stroke-width="1.0" fill="none"/>
<path d="M548.5 344.5H563.5" stroke="#2a2a2a" stroke-width="1.0" fill="none"/>
<path d="M578.5 297.5V308.5M575.9 297.5H581.1M575.9 308.5H581.1" stroke="#2a2a2a" stroke-width="1.0" fill="none"/>
<path d="M572.5 333.5H583.5" stroke="#2a2a2a" stroke-width="1.0" fill="none"/>
<path d="M582.5 336.5H604.5M582.5 335.3V337.7M604.5 335.3V337.7" stroke="#2a2a2a" stroke-width="1.0" fill="none"/>
<path d="M580.5 341.5H606.5" stroke="#2a2a2a" stroke-width="1.0" fill="none"/>
<path d="M647.5 341.5H669.5M647.5 340.3V342.7M669.5 340.3V342.7" stroke="#2a2a2a" stroke-width="1.0" fill="none"/>
<path d="M645.5 352.5H671.5" stroke="#2a2a2a" stroke-width="1.0" fill="none"/>
<circle cx="407.1" cy="218.8" r="4.85" fill="#d4e000" stroke="#0a8a52" stroke-width="1.9"/><circle cx="407.1" cy="218.8" r="2.2" fill="#0a8a52"/>
<circle cx="398.8" cy="228.9" r="4.85" fill="#d4e000" stroke="#0a8a52" stroke-width="1.9"/><circle cx="398.8" cy="228.9" r="2.2" fill="#0a8a52"/>
<circle cx="399.3" cy="262.1" r="4.85" fill="#d4e000" stroke="#0a8a52" stroke-width="1.9"/><circle cx="399.3" cy="262.1" r="2.2" fill="#0a8a52"/>
<circle cx="395.9" cy="258.5" r="4.85" fill="#d4e000" stroke="#0a8a52" stroke-width="1.9"/><circle cx="395.9" cy="258.5" r="2.2" fill="#0a8a52"/>
<circle cx="407.3" cy="286.0" r="4.85" fill="#fff" stroke="#0a8a52" stroke-width="1.9"/>
<circle cx="404.5" cy="305.0" r="4.85" fill="#fff" stroke="#0a8a52" stroke-width="1.9"/>
<circle cx="395.7" cy="310.8" r="4.85" fill="#fff" stroke="#0a8a52" stroke-width="1.9"/>
<circle cx="395.7" cy="302.2" r="4.85" fill="#d4e000" stroke="#0a8a52" stroke-width="1.9"/><circle cx="395.7" cy="302.2" r="2.2" fill="#0a8a52"/>
<circle cx="397.9" cy="319.4" r="4.85" fill="#fff" stroke="#0a8a52" stroke-width="1.9"/>
<circle cx="406.2" cy="316.5" r="4.85" fill="#d4e000" stroke="#0a8a52" stroke-width="1.9"/><circle cx="406.2" cy="316.5" r="2.2" fill="#0a8a52"/>
<circle cx="404.3" cy="325.8" r="4.85" fill="#fff" stroke="#0a8a52" stroke-width="1.9"/>
<circle cx="395.1" cy="331.3" r="4.85" fill="#fff" stroke="#0a8a52" stroke-width="1.9"/>
<circle cx="405.0" cy="333.0" r="4.85" fill="#d4e000" stroke="#0a8a52" stroke-width="1.9"/><circle cx="405.0" cy="333.0" r="2.2" fill="#0a8a52"/>
<circle cx="405.8" cy="337.6" r="4.85" fill="#fff" stroke="#0a8a52" stroke-width="1.9"/>
<circle cx="420.1" cy="304.5" r="4.85" fill="#d4e000" stroke="#0a8a52" stroke-width="1.9"/><circle cx="420.1" cy="304.5" r="2.2" fill="#0a8a52"/>
<circle cx="421.4" cy="327.4" r="4.85" fill="#fff" stroke="#0a8a52" stroke-width="1.9"/>
<circle cx="421.4" cy="323.5" r="4.85" fill="#d4e000" stroke="#0a8a52" stroke-width="1.9"/><circle cx="421.4" cy="323.5" r="2.2" fill="#0a8a52"/>
<circle cx="530.0" cy="289.7" r="4.85" fill="#d4e000" stroke="#0a8a52" stroke-width="1.9"/><circle cx="530.0" cy="289.7" r="2.2" fill="#0a8a52"/>
<circle cx="503.4" cy="297.2" r="4.85" fill="#fff" stroke="#0a8a52" stroke-width="1.9"/>
<circle cx="503.4" cy="304.8" r="4.85" fill="#d4e000" stroke="#0a8a52" stroke-width="1.9"/><circle cx="503.4" cy="304.8" r="2.2" fill="#0a8a52"/>
<circle cx="497.4" cy="310.1" r="4.85" fill="#d4e000" stroke="#0a8a52" stroke-width="1.9"/><circle cx="497.4" cy="310.1" r="2.2" fill="#0a8a52"/>
<circle cx="555.6" cy="310.6" r="4.85" fill="#d4e000" stroke="#0a8a52" stroke-width="1.9"/><circle cx="555.6" cy="310.6" r="2.2" fill="#0a8a52"/>
<circle cx="461.9" cy="329.4" r="4.85" fill="#d4e000" stroke="#0a8a52" stroke-width="1.9"/><circle cx="461.9" cy="329.4" r="2.2" fill="#0a8a52"/>
<circle cx="480.6" cy="332.2" r="4.85" fill="#d4e000" stroke="#0a8a52" stroke-width="1.9"/><circle cx="480.6" cy="332.2" r="2.2" fill="#0a8a52"/>
<circle cx="520.7" cy="332.5" r="4.85" fill="#d4e000" stroke="#0a8a52" stroke-width="1.9"/><circle cx="520.7" cy="332.5" r="2.2" fill="#0a8a52"/>
<circle cx="490.6" cy="339.4" r="4.85" fill="#d4e000" stroke="#0a8a52" stroke-width="1.9"/><circle cx="490.6" cy="339.4" r="2.2" fill="#0a8a52"/>
<circle cx="503.1" cy="339.4" r="4.85" fill="#d4e000" stroke="#0a8a52" stroke-width="1.9"/><circle cx="503.1" cy="339.4" r="2.2" fill="#0a8a52"/>
<circle cx="535.2" cy="346.1" r="4.85" fill="#d4e000" stroke="#0a8a52" stroke-width="1.9"/><circle cx="535.2" cy="346.1" r="2.2" fill="#0a8a52"/>
<circle cx="529.4" cy="330.6" r="4.85" fill="#fff" stroke="#0a8a52" stroke-width="1.9"/>
<circle cx="461.9" cy="342.3" r="4.85" fill="#fff" stroke="#0a8a52" stroke-width="1.9"/>
<circle cx="467.2" cy="348.0" r="4.85" fill="#d4e000" stroke="#0a8a52" stroke-width="1.9"/><circle cx="467.2" cy="348.0" r="2.2" fill="#0a8a52"/>
<circle cx="480.2" cy="345.1" r="4.85" fill="#fff" stroke="#0a8a52" stroke-width="1.9"/>
<circle cx="488.8" cy="350.9" r="4.85" fill="#d4e000" stroke="#0a8a52" stroke-width="1.9"/><circle cx="488.8" cy="350.9" r="2.2" fill="#0a8a52"/>
<circle cx="487.9" cy="346.9" r="4.85" fill="#fff" stroke="#0a8a52" stroke-width="1.9"/>
<circle cx="503.1" cy="351.6" r="4.85" fill="#fff" stroke="#0a8a52" stroke-width="1.9"/>
<circle cx="520.7" cy="355.2" r="4.85" fill="#fff" stroke="#0a8a52" stroke-width="1.9"/>
<circle cx="522.1" cy="358.2" r="4.85" fill="#fff" stroke="#0a8a52" stroke-width="1.9"/>
<circle cx="535.2" cy="349.4" r="4.85" fill="#fff" stroke="#0a8a52" stroke-width="1.9"/>
<circle cx="464.2" cy="355.5" r="4.85" fill="#d4e000" stroke="#0a8a52" stroke-width="1.9"/><circle cx="464.2" cy="355.5" r="2.2" fill="#0a8a52"/>
<circle cx="467.2" cy="364.1" r="4.85" fill="#fff" stroke="#0a8a52" stroke-width="1.9"/>
<circle cx="555.6" cy="344.1" r="4.85" fill="#fff" stroke="#0a8a52" stroke-width="1.9"/>
<circle cx="578.3" cy="302.0" r="4.85" fill="#d4e000" stroke="#0a8a52" stroke-width="1.9"/><circle cx="578.3" cy="302.0" r="2.2" fill="#0a8a52"/>
<circle cx="577.8" cy="333.8" r="4.85" fill="#fff" stroke="#0a8a52" stroke-width="1.9"/>
<circle cx="594.6" cy="336.2" r="4.85" fill="#d4e000" stroke="#0a8a52" stroke-width="1.9"/><circle cx="594.6" cy="336.2" r="2.2" fill="#0a8a52"/>
<circle cx="594.6" cy="341.0" r="4.85" fill="#fff" stroke="#0a8a52" stroke-width="1.9"/>
<circle cx="612.3" cy="349.4" r="4.85" fill="#d4e000" stroke="#0a8a52" stroke-width="1.9"/><circle cx="612.3" cy="349.4" r="2.2" fill="#0a8a52"/>
<circle cx="612.3" cy="351.8" r="4.85" fill="#fff" stroke="#0a8a52" stroke-width="1.9"/>
<circle cx="621.4" cy="346.5" r="4.85" fill="#fff" stroke="#0a8a52" stroke-width="1.9"/>
<circle cx="621.4" cy="352.3" r="4.85" fill="#d4e000" stroke="#0a8a52" stroke-width="1.9"/><circle cx="621.4" cy="352.3" r="2.2" fill="#0a8a52"/>
<circle cx="658.4" cy="341.0" r="4.85" fill="#d4e000" stroke="#0a8a52" stroke-width="1.9"/><circle cx="658.4" cy="341.0" r="2.2" fill="#0a8a52"/>
<circle cx="658.4" cy="352.3" r="4.85" fill="#fff" stroke="#0a8a52" stroke-width="1.9"/>
</g>
<circle cx="575.3" cy="210.3" r="4.75" fill="#fff" stroke="#c08444" stroke-width="1.6"/>
<circle cx="590" cy="210.3" r="4.75" fill="#fff" stroke="#0a8a52" stroke-width="1.6"/>
<circle cx="575.3" cy="227.4" r="4.75" fill="#e8c84a" stroke="#c08444" stroke-width="1.8"/><circle cx="575.3" cy="227.4" r="2.4" fill="#c08444"/>
<circle cx="590" cy="227.4" r="4.75" fill="#d4e000" stroke="#0a8a52" stroke-width="1.8"/><circle cx="590" cy="227.4" r="2.4" fill="#0a8a52"/>
<text x="601.4" y="217.2" font-family="Liberation Sans, sans-serif" font-size="13" fill="#111" stroke="#111" stroke-width="0.2">&gt; <tspan dx="1.2">2</tspan> <tspan dx="0.8" font-style="italic">μ</tspan><tspan dx="0.4">m</tspan></text>
<text x="601.4" y="233.6" font-family="Liberation Sans, sans-serif" font-size="13" fill="#111" stroke="#111" stroke-width="0.2">&gt; <tspan dx="0.6">0.2</tspan> <tspan dx="1.2" font-style="italic">μ</tspan>m</text>
</svg>
</body></html>
